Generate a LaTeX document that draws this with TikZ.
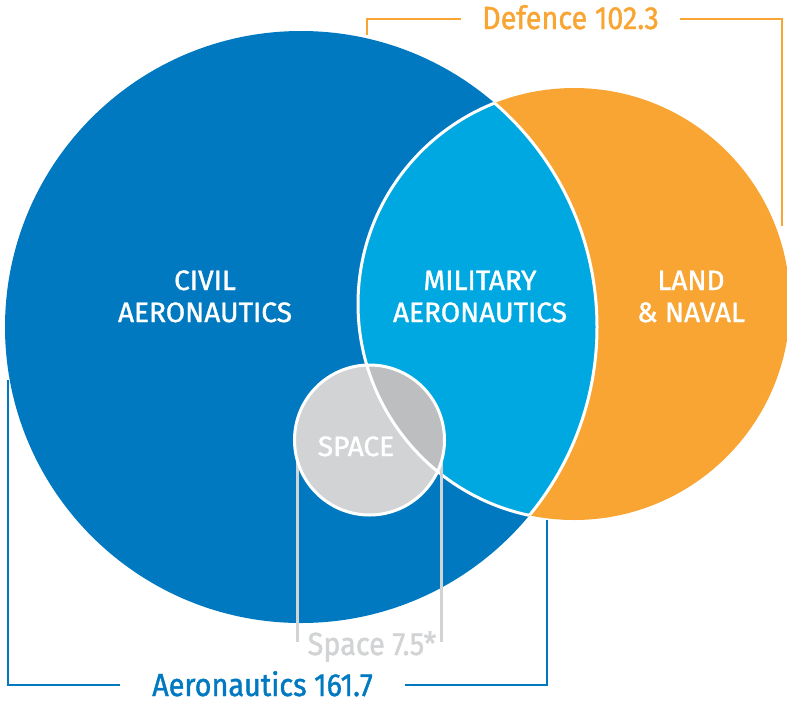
\documentclass[tikz,border=0pt]{standalone}
\usepackage{fontspec}
\setmainfont{Fira Sans}[FakeStretch=0.9, FakeBold=1.3]
\newfontfamily\lblfont{Fira Sans}[FakeBold=1.3]
\definecolor{cblue}{HTML}{0079C1}
\definecolor{clight}{HTML}{00A8E1}
\definecolor{corange}{HTML}{F9A533}
\definecolor{cgrey}{HTML}{D1D3D4}
\definecolor{cdgrey}{HTML}{BCBEC0}
\begin{document}
\begin{tikzpicture}[x=1pt,y=-1pt,
  lbl/.style={text=white, font=\lblfont\fontsize{28}{32}\selectfont, anchor=base, inner sep=0pt},
  total/.style={font=\fontsize{32}{38}\selectfont, anchor=base, inner ysep=0pt},
  sep/.style={white, line width=3pt},
  bracket/.style={line width=2.5pt}]
\useasboundingbox (0,0) rectangle (787,702);
% big circles
\fill[cblue] (301,327) circle[radius=296pt];
\fill[corange] (574,304) circle[radius=216pt];
\begin{scope}
  \clip (301,327) circle[radius=296pt];
  \fill[clight] (574,304) circle[radius=216pt];
  \draw[sep] (574,304) circle[radius=216pt];
\end{scope}
\begin{scope}
  \clip (574,304) circle[radius=216pt];
  \draw[sep] (301,327) circle[radius=296pt];
\end{scope}
% space leader lines
\coordinate (s1) at (297,440);
\coordinate (s2) at (441,440);
\coordinate (s1e) at (297,642);
\coordinate (s2e) at (441,642);
\draw[cgrey, line width=3pt] (s1) -- (s1e);
\draw[cgrey, line width=3pt] (s2) -- (s2e);
% space circle
\fill[cgrey] (369.5,440) circle[radius=75pt];
\begin{scope}
  \clip (574,304) circle[radius=216pt];
  \fill[cdgrey] (369.5,440) circle[radius=75pt];
\end{scope}
\begin{scope}
  \clip (369.5,440) circle[radius=75pt];
  \draw[sep] (574,304) circle[radius=216pt];
\end{scope}
\draw[sep] (369.5,440) circle[radius=75pt];
% labels
\node[lbl] (civ1) at (205,290) {CIVIL};
\node[lbl] (civ2) at (205,322) {AERONAUTICS};
\node[lbl] (mil1) at (480,290) {MILITARY};
\node[lbl] (mil2) at (480,322) {AERONAUTICS};
\node[lbl] (lan1) at (691,290) {LAND};
\node[lbl] (lan2) at (691,322) {\&\ NAVAL};
\node[lbl] (spc) at (356,456) {SPACE};
% totals
\node[total, text=corange, inner xsep=21pt] (def) at (570.5,29) {Defence 102.3};
\node[total, text=cblue, inner xsep=32pt] (aer) at (262.5,696) {Aeronautics 161.7};
\node[total, text=cgrey, inner xsep=0pt] (spt) at (372,655) {Space 7.5*};
% brackets
\coordinate (d1) at (367,35);
\coordinate (d2) at (782,226);
\draw[bracket, corange] (d1) |- ([yshift=10pt]def.base west);
\draw[bracket, corange] ([yshift=10pt]def.base east) -| (d2);
\coordinate (a1) at (8,380);
\coordinate (a2) at (547,520);
\draw[bracket, cblue] (a1) |- ([yshift=11pt]aer.base west);
\draw[bracket, cblue] ([yshift=11pt]aer.base east) -| (a2);
\end{tikzpicture}
\end{document}
